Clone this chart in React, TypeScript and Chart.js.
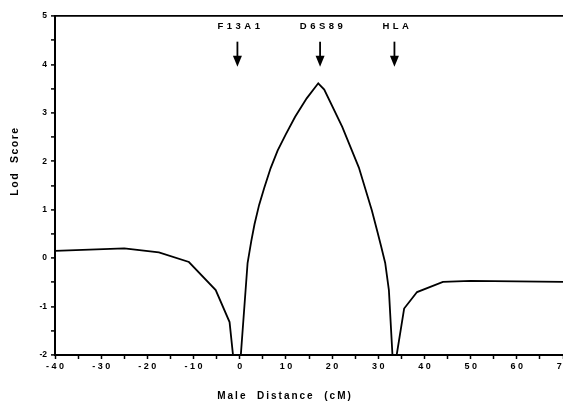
import React, { useEffect, useRef } from "react";
import { Chart, registerables } from "chart.js";

Chart.register(...registerables);

// Male distance (cM) and LOD score
const distance = [-40, -25, -17.5, -11, -5.2, -2.2, -1.4, 0.2, 1.7, 2.5, 3.2, 4.2, 5.3, 6.7, 8.2, 10, 12, 14.5, 17, 18.3, 22.2, 25.8, 28.6, 29.8, 30.6, 31.5, 32.3, 33.1, 33.9, 35.6, 38.4, 44, 50, 70];
const lodScore = [0.15, 0.2, 0.12, -0.08, -0.66, -1.32, -2.05, -2.05, -0.1, 0.35, 0.7, 1.1, 1.45, 1.86, 2.22, 2.56, 2.92, 3.3, 3.61, 3.48, 2.71, 1.87, 0.99, 0.55, 0.25, -0.1, -0.66, -2.05, -2.05, -1.04, -0.7, -0.49, -0.47, -0.49];

// Marker loci shown with arrows
const markerNames = ["F13A1", "D6S89", "HLA"];
const markerPositions = [-0.5, 17.4, 33.5];
const arrowTopLod = 4.47;
const arrowTipLod = 3.95;
const markerLabelLod = 4.78;

// Axis ranges / titles
const xMin = -40;
const xMax = 70;
const yMin = -2;
const yMax = 5;
const xTitle = "Male  Distance  (cM)";
const yTitle = "Lod  Score";

const FONT = "'Liberation Sans', Arial, Helvetica, sans-serif";

export default function App() {
  const ref = useRef<HTMLCanvasElement | null>(null);

  useEffect(() => {
    const canvas = ref.current;
    if (!canvas) return;

    const overlay = {
      id: "overlay",
      afterDraw(chart: any) {
        const ctx = chart.ctx as CanvasRenderingContext2D;
        const xs = chart.scales.x;
        const ys = chart.scales.y;
        ctx.save();
        ctx.fillStyle = "#000";
        ctx.strokeStyle = "#000";
        // arrows + labels
        markerNames.forEach((name, i) => {
          const px = xs.getPixelForValue(markerPositions[i]);
          const top = ys.getPixelForValue(arrowTopLod);
          const tip = ys.getPixelForValue(arrowTipLod);
          const lab = ys.getPixelForValue(markerLabelLod);
          ctx.lineWidth = 1.8;
          ctx.beginPath();
          ctx.moveTo(px, top);
          ctx.lineTo(px, tip - 8);
          ctx.stroke();
          ctx.beginPath();
          ctx.moveTo(px - 4.5, tip - 11);
          ctx.lineTo(px + 4.5, tip - 11);
          ctx.lineTo(px, tip);
          ctx.closePath();
          ctx.fill();
          ctx.font = `bold 9.5px ${FONT}`;
          (ctx as any).letterSpacing = "3.5px";
          ctx.textAlign = "center";
          ctx.textBaseline = "middle";
          ctx.fillText(name, px + 3, lab);
        });
        // axis titles
        (ctx as any).letterSpacing = "2px";
        ctx.font = `bold 10px ${FONT}`;
        ctx.textAlign = "center";
        ctx.textBaseline = "middle";
        ctx.fillText(xTitle, 285, 396);
        ctx.save();
        ctx.translate(15, 161);
        ctx.rotate(-Math.PI / 2);
        (ctx as any).letterSpacing = "1.5px";
        ctx.font = `bold 10.5px ${FONT}`;
        ctx.fillText(yTitle, 0, 0);
        ctx.restore();
        ctx.restore();
      },
    };

    const chart = new Chart(canvas, {
      type: "line",
      data: {
        datasets: [
          {
            data: distance.map((d, i) => ({ x: d, y: lodScore[i] })),
            borderColor: "#000",
            borderWidth: 1.8,
            pointRadius: 0,
            tension: 0,
            fill: false,
          },
        ],
      },
      options: {
        responsive: false,
        animation: false,
        devicePixelRatio: 1,
        layout: { padding: { top: 16, right: 12, left: 0, bottom: 0 } },
        plugins: { legend: { display: false }, tooltip: { enabled: false } },
        scales: {
          x: {
            type: "linear",
            min: xMin,
            max: xMax,
            afterFit: (s: any) => {
              s.height = 50;
            },
            border: { display: true, color: "#000", width: 2 },
            grid: { drawOnChartArea: false, tickLength: 4, tickColor: "#000", tickWidth: 1.5 },
            ticks: {
              stepSize: 5,
              autoSkip: false,
              maxRotation: 0,
              minRotation: 0,
              padding: 2,
              color: "#000",
              font: { family: FONT, size: 9, weight: "bold" },
              callback: (v: any) => (Number(v) % 10 === 0 ? String(v).split("").join(" ") : ""),
            },
          },
          y: {
            type: "linear",
            min: yMin,
            max: yMax,
            afterFit: (s: any) => {
              s.width = 55;
            },
            border: { display: true, color: "#000", width: 2 },
            grid: {
              drawOnChartArea: true,
              color: (c: any) => (c.tick && c.tick.value === yMax ? "#000" : "rgba(0,0,0,0)"),
              lineWidth: 1.8,
              tickLength: 4,
              tickColor: "#000",
              tickWidth: 1.5,
            },
            ticks: {
              stepSize: 0.5,
              autoSkip: false,
              padding: 4,
              color: "#000",
              font: { family: FONT, size: 8.5, weight: "bold" },
              callback: (v: any) => (Number.isInteger(Number(v)) ? String(v) : ""),
            },
          },
        },
      },
      plugins: [overlay],
    });

    return () => chart.destroy();
  }, []);

  return (
    <div
      style={{
        position: "fixed",
        left: 0,
        top: 0,
        width: 563,
        height: 405,
        overflow: "hidden",
        background: "#fff",
      }}
    >
      <canvas ref={ref} width={575} height={405} style={{ width: 575, height: 405, display: "block" }} />
    </div>
  );
}
